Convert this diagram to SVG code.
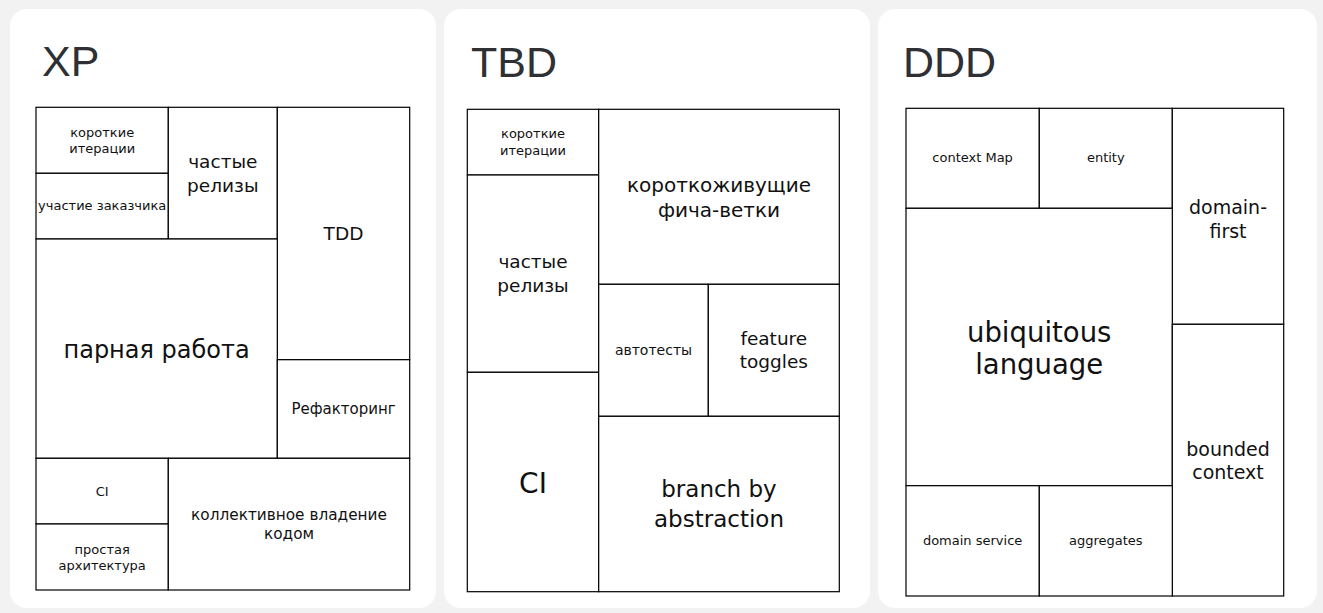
<svg xmlns="http://www.w3.org/2000/svg" width="1323" height="613" viewBox="0 0 1323 613">
<style>
.card{fill:#ffffff}
.cell rect{fill:#ffffff;stroke:#000;stroke-width:1.2}
.cell text{font-family:"DejaVu Sans","Verdana",sans-serif;fill:#111;text-anchor:middle}
.title{font-family:"Liberation Sans",Arial,sans-serif;font-size:43px;fill:#2f3033}
</style>
<rect x="0" y="0" width="1323" height="613" fill="#f2f2f2"/>
<g id="card-xp">
<rect class="card" x="10" y="9" width="426" height="599" rx="17"/>
<text class="title" x="42" y="76">XP</text>
</g>
<g id="card-tbd">
<rect class="card" x="444" y="9" width="426" height="599" rx="17"/>
<text class="title" x="471" y="77">TBD</text>
</g>
<g id="card-ddd">
<rect class="card" x="878" y="9" width="439" height="599" rx="17"/>
<text class="title" x="903" y="77">DDD</text>
</g>

<!-- XP -->
<g id="xp-short-iter" class="cell"><rect x="36" y="107.3" width="132.3" height="66"/><text font-size="13" x="102.2" y="136.6">короткие</text><text font-size="13" x="102.2" y="153.1">итерации</text></g>
<g id="xp-customer" class="cell"><rect x="36" y="173.3" width="132.3" height="65.7"/><text font-size="13" x="102.2" y="210.4">участие заказчика</text></g>
<g id="xp-releases" class="cell"><rect x="168.3" y="107.3" width="109" height="131.7"/><text font-size="18.5" x="222.8" y="168.4">частые</text><text font-size="18.5" x="222.8" y="191.6">релизы</text></g>
<g id="xp-tdd" class="cell"><rect x="277.3" y="107.3" width="132.4" height="252.4"/><text font-size="18.5" x="343.5" y="240">TDD</text></g>
<g id="xp-pair" class="cell"><rect x="36" y="239" width="241.3" height="219.3"/><text font-size="24" x="156.6" y="358">парная работа</text></g>
<g id="xp-refactor" class="cell"><rect x="277.3" y="359.7" width="132.4" height="98.6"/><text font-size="15" x="343.5" y="414">Рефакторинг</text></g>
<g id="xp-ci" class="cell"><rect x="36" y="458.3" width="132.3" height="65.7"/><text font-size="13" x="102.2" y="495.6">CI</text></g>
<g id="xp-simple" class="cell"><rect x="36" y="524" width="132.3" height="66"/><text font-size="13" x="102.2" y="553.8">простая</text><text font-size="13" x="102.2" y="570">архитектура</text></g>
<g id="xp-ownership" class="cell"><rect x="168.3" y="458.3" width="241.4" height="131.7"/><text font-size="15.3" x="289" y="520.2">коллективное владение</text><text font-size="15.3" x="289" y="539.2">кодом</text></g>

<!-- TBD -->
<g id="tbd-short-iter" class="cell"><rect x="467.3" y="109.3" width="131.4" height="65.7"/><text font-size="13" x="533" y="138.4">короткие</text><text font-size="13" x="533" y="154.8">итерации</text></g>
<g id="tbd-releases" class="cell"><rect x="467.3" y="175" width="131.4" height="197.3"/><text font-size="18.5" x="533" y="268.4">частые</text><text font-size="18.5" x="533" y="291.6">релизы</text></g>
<g id="tbd-ci" class="cell"><rect x="467.3" y="372.3" width="131.4" height="219.4"/><text font-size="28" x="533" y="493.3">CI</text></g>
<g id="tbd-branches" class="cell"><rect x="598.7" y="109.3" width="240.6" height="175"/><text font-size="20" x="719" y="191.6">короткоживущие</text><text font-size="20" x="719" y="216.6">фича-ветки</text></g>
<g id="tbd-autotests" class="cell"><rect x="598.7" y="284.3" width="109.6" height="132"/><text font-size="14" x="653.5" y="355">автотесты</text></g>
<g id="tbd-toggles" class="cell"><rect x="708.3" y="284.3" width="131" height="132"/><text font-size="18.5" x="773.8" y="345">feature</text><text font-size="18.5" x="773.8" y="367.5">toggles</text></g>
<g id="tbd-bba" class="cell"><rect x="598.7" y="416.3" width="240.6" height="175.4"/><text font-size="23" x="719" y="497.3">branch by</text><text font-size="23" x="719" y="526.7">abstraction</text></g>

<!-- DDD -->
<g id="ddd-context-map" class="cell"><rect x="906" y="108.3" width="133.3" height="100"/><text font-size="13" x="972.6" y="162.4">context Map</text></g>
<g id="ddd-entity" class="cell"><rect x="1039.3" y="108.3" width="133" height="100"/><text font-size="13" x="1105.8" y="162.4">entity</text></g>
<g id="ddd-domain-first" class="cell"><rect x="1172.3" y="108.3" width="111.4" height="216"/><text font-size="19" x="1228" y="214.3">domain-</text><text font-size="19" x="1228" y="237.8">first</text></g>
<g id="ddd-ubiquitous" class="cell"><rect x="906" y="208.3" width="266.3" height="277.4"/><text font-size="27.5" x="1039.2" y="341.6">ubiquitous</text><text font-size="27.5" x="1039.2" y="374.3">language</text></g>
<g id="ddd-bounded" class="cell"><rect x="1172.3" y="324.3" width="111.4" height="271.7"/><text font-size="19" x="1228" y="456">bounded</text><text font-size="19" x="1228" y="479.4">context</text></g>
<g id="ddd-domain-service" class="cell"><rect x="906" y="485.7" width="133.3" height="110.3"/><text font-size="13" x="972.6" y="545">domain service</text></g>
<g id="ddd-aggregates" class="cell"><rect x="1039.3" y="485.7" width="133" height="110.3"/><text font-size="13" x="1105.8" y="545">aggregates</text></g>
<g id="connectors"/>
</svg>
